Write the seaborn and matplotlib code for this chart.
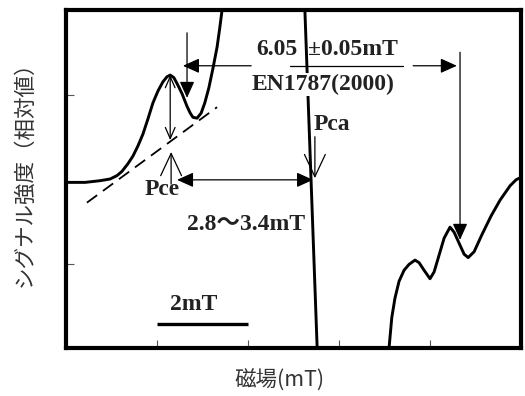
import matplotlib
matplotlib.use("Agg")
import matplotlib.pyplot as plt
import seaborn as sns
import pandas as pd

# ESR first-derivative spectrum (field in mT, relative intensity)
field_mT = [0.00, 0.42, 0.75, 0.97, 1.12, 1.23, 1.36, 1.47, 1.58, 1.69, 1.80, 1.91,
            2.02, 2.13, 2.22, 2.29, 2.37, 2.46, 2.55, 2.66, 2.73, 2.79, 2.88, 2.97,
            3.05, 3.14, 3.23, 3.32, 3.38, 3.43, 3.52, 4.37, 5.21, 5.25, 5.52, 5.58,
            6.29, 7.01, 7.10, 7.16, 7.23, 7.32, 7.43, 7.54, 7.67, 7.76, 7.87, 8.00,
            8.09, 8.20, 8.31, 8.44, 8.53, 8.64, 8.75, 8.84, 8.97, 9.14, 9.34, 9.54,
            9.76, 9.89, 10.00]
signal = [-0.04, -0.04, -0.02, 0.00, 0.04, 0.09, 0.18, 0.27, 0.39, 0.53, 0.71, 0.90,
          1.04, 1.15, 1.21, 1.23, 1.20, 1.11, 1.01, 0.86, 0.78, 0.73, 0.72, 0.78,
          0.90, 1.08, 1.31, 1.56, 1.79, 2.00, 2.59, 5.67, 2.59, 2.00, -2.00, -2.85,
          -4.51, -2.85, -2.00, -1.64, -1.41, -1.21, -1.08, -1.01, -0.96, -0.99, -1.08, -1.18,
          -1.10, -0.90, -0.70, -0.57, -0.63, -0.76, -0.89, -0.93, -0.86, -0.66, -0.44, -0.25,
          -0.08, -0.01, 0.02]

# Baseline tangent drawn under the Pce peak
baseline_x = [0.46, 3.32]
baseline_y = [-0.28, 0.85]

sns.set_style("ticks")
plt.rcParams["font.family"] = ["Noto Sans CJK JP", "DejaVu Sans"]
SERIF = ["Liberation Serif", "Noto Sans CJK JP"]

fig = plt.figure(figsize=(5.25, 3.96), dpi=100)
ax = fig.add_axes([66 / 525, 1 - 348 / 396, 455 / 525, 338 / 396])

df = pd.DataFrame({"field": field_mT, "signal": signal})
sns.lineplot(data=df, x="field", y="signal", sort=False, color="black",
             linewidth=2.1, ax=ax, zorder=3)
sns.lineplot(x=baseline_x, y=baseline_y, color="black", linewidth=1.3,
             dashes=False, ax=ax, zorder=2).lines[-1].set_dashes((7, 4))

ax.set_xlim(0, 10)
ax.set_ylim(-2, 2)
ax.set_xticks([2, 4, 6, 8])
ax.set_yticks([-1, 1])
ax.tick_params(direction="in", length=6, width=0.8, labelbottom=False,
               labelleft=False, color="#555555")
for s in ax.spines.values():
    s.set_linewidth(3.0)
    s.set_color("black")

ax.set_xlabel("磁場(mT)", fontsize=15.5, color="#333333")
ax.set_ylabel("シグナル強度（相対値）", fontsize=15.5, color="#333333")
ax.xaxis.set_label_coords(0.47, -0.065)
ax.yaxis.set_label_coords(-0.066, 0.53)

thin = 0.9
filled = dict(arrowstyle="-|>,head_length=1.0,head_width=0.45",
              color="black", lw=thin, shrinkA=0, shrinkB=0, mutation_scale=10)
filled2 = dict(arrowstyle="<|-|>,head_length=1.0,head_width=0.45",
               color="black", lw=thin, shrinkA=0, shrinkB=0, mutation_scale=10)
open_head = dict(arrowstyle="->,head_length=1.6,head_width=0.75",
                 color="black", lw=thin, shrinkA=0, shrinkB=0, mutation_scale=10)
open2 = dict(arrowstyle="<->,head_length=0.8,head_width=0.35",
             color="black", lw=thin, shrinkA=0, shrinkB=0, mutation_scale=10)

# peak height between tangent and maximum
ax.annotate("", xy=(2.29, 1.23), xytext=(2.29, 0.46), arrowprops=open2, zorder=4)
# Pce marker
ax.annotate("", xy=(2.31, 0.32), xytext=(2.31, -0.06), arrowprops=open_head, zorder=4)
# Pca marker
ax.annotate("", xy=(5.47, 0.01), xytext=(5.47, 0.50), arrowprops=open_head, zorder=4)
# Pce-Pca distance
ax.annotate("", xy=(2.44, -0.01), xytext=(5.43, -0.01), arrowprops=filled2, zorder=4)
# 6.05 mT spacing
ax.annotate("", xy=(2.66, 0.96), xytext=(2.66, 1.73), arrowprops=filled, zorder=4)
ax.annotate("", xy=(8.66, -0.72), xytext=(8.66, 1.50), arrowprops=filled, zorder=4)
ax.annotate("", xy=(2.57, 1.34), xytext=(4.07, 1.34), arrowprops=filled, zorder=4)
ax.plot([4.92, 7.41], [1.34, 1.34], color="black", lw=thin, zorder=4)
ax.annotate("", xy=(8.59, 1.34), xytext=(7.63, 1.34), arrowprops=filled, zorder=4)

# 2 mT scale bar
ax.plot([2, 4], [-1.72, -1.72], color="black", lw=2.4, solid_capstyle="butt")

tkw = dict(family=SERIF, fontweight="bold", fontsize=17,
           va="center", color="#222222", zorder=5)
ax.text(5.08, 1.53, "6.05", ha="right", **tkw)
ax.text(5.32, 1.53, "±0.05mT", ha="left", **tkw)
ax.text(5.65, 1.12, "EN1787(2000)", ha="center",
        bbox=dict(facecolor="white", edgecolor="none", pad=0.5), **tkw)
ax.text(5.85, 0.65, "Pca", ha="center", **tkw)
ax.text(2.11, -0.12, "Pce", ha="center", **tkw)
ax.text(3.96, -0.54, "2.8～3.4mT", ha="center", **tkw)
ax.text(2.81, -1.48, "2mT", ha="center", **tkw)

fig.savefig("out.png", dpi=100)
